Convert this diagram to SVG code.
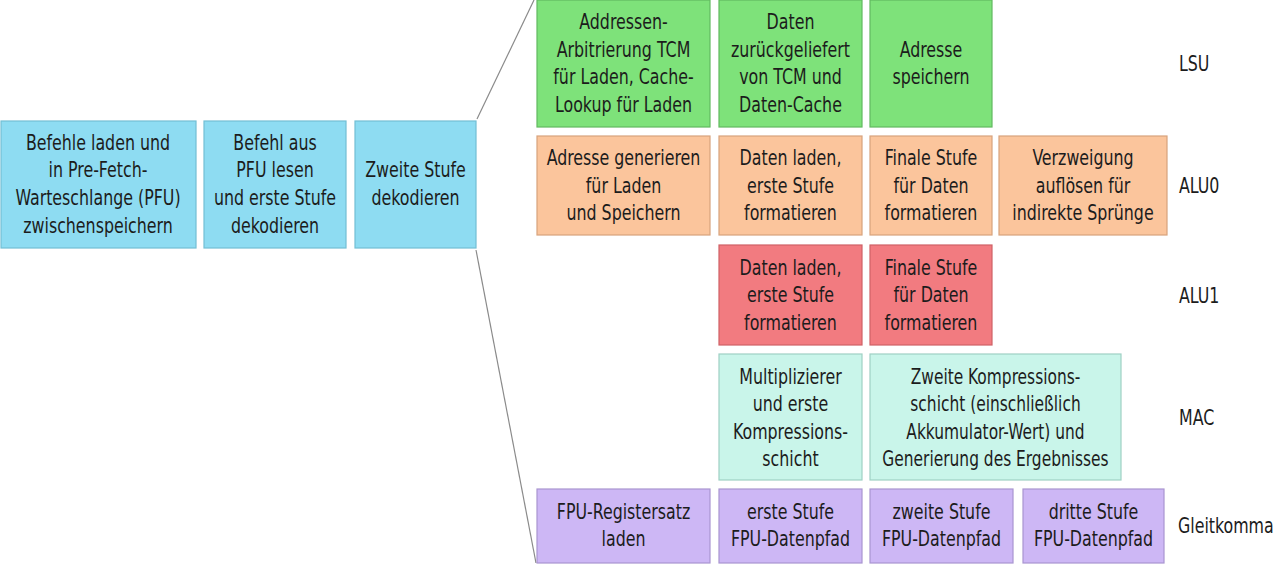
<svg xmlns="http://www.w3.org/2000/svg" width="1280" height="564" viewBox="0 0 1280 564">
<style>
text{font-family:"Liberation Sans Narrow","DejaVu Sans Condensed","Liberation Sans",sans-serif;font-size:22px;fill:#1c1c1c;text-anchor:middle;dominant-baseline:central}
.lbl text{text-anchor:start}
.blue{fill:#8edcf2;stroke:#72bfd4;stroke-width:1.2}
.green{fill:#7ee27a;stroke:#62b95f;stroke-width:1.2}
.orange{fill:#fbc59c;stroke:#d8a27c;stroke-width:1.2}
.red{fill:#f27b80;stroke:#cf6166;stroke-width:1.2}
.mint{fill:#c9f5ea;stroke:#9fd0c4;stroke-width:1.2}
.purple{fill:#cdb7f5;stroke:#a995d0;stroke-width:1.2}
.conn{stroke:#8a8a8a;stroke-width:1.2;fill:none}
</style>
<rect width="1280" height="564" fill="#ffffff"/>
<g id="connectors">
<line class="conn" x1="477" y1="119" x2="534" y2="0"/>
<line class="conn" x1="476" y1="250" x2="536" y2="563"/>
</g>
<g id="n1"><rect class="blue" x="1" y="121" width="195" height="127"/>
<g transform="translate(98 0) scale(0.8 1)"><text x="0" y="143">Befehle laden und</text><text x="0" y="170">in Pre-Fetch-</text><text x="0" y="198">Warteschlange (PFU)</text><text x="0" y="226">zwischenspeichern</text></g></g>
<g id="n2"><rect class="blue" x="204" y="121" width="142" height="127"/>
<g transform="translate(275 0) scale(0.8 1)"><text x="0" y="143">Befehl aus</text><text x="0" y="170">PFU lesen</text><text x="0" y="198">und erste Stufe</text><text x="0" y="226">dekodieren</text></g></g>
<g id="n3"><rect class="blue" x="355" y="121" width="121" height="127"/>
<g transform="translate(415.5 0) scale(0.8 1)"><text x="0" y="170">Zweite Stufe</text><text x="0" y="198">dekodieren</text></g></g>

<g id="lsu1"><rect class="green" x="537" y="0" width="173" height="127"/>
<g transform="translate(623.5 0) scale(0.8 1)"><text x="0" y="22">Addressen-</text><text x="0" y="50">Arbitrierung TCM</text><text x="0" y="77">für Laden, Cache-</text><text x="0" y="105">Lookup für Laden</text></g></g>
<g id="lsu2"><rect class="green" x="719" y="0" width="143" height="127"/>
<g transform="translate(790.5 0) scale(0.8 1)"><text x="0" y="22">Daten</text><text x="0" y="50">zurückgeliefert</text><text x="0" y="77">von TCM und</text><text x="0" y="105">Daten-Cache</text></g></g>
<g id="lsu3"><rect class="green" x="870" y="0" width="122" height="127"/>
<g transform="translate(931 0) scale(0.8 1)"><text x="0" y="50">Adresse</text><text x="0" y="77">speichern</text></g></g>
<g id="lbl-lsu" class="lbl"><g transform="translate(1179 0) scale(0.8 1)"><text x="0" y="64">LSU</text></g></g>

<g id="alu0-1"><rect class="orange" x="537" y="136" width="173" height="99"/>
<g transform="translate(623.5 0) scale(0.8 1)"><text x="0" y="158">Adresse generieren</text><text x="0" y="186">für Laden</text><text x="0" y="213">und Speichern</text></g></g>
<g id="alu0-2"><rect class="orange" x="719" y="136" width="143" height="99"/>
<g transform="translate(790.5 0) scale(0.8 1)"><text x="0" y="158">Daten laden,</text><text x="0" y="186">erste Stufe</text><text x="0" y="213">formatieren</text></g></g>
<g id="alu0-3"><rect class="orange" x="870" y="136" width="122" height="99"/>
<g transform="translate(931 0) scale(0.8 1)"><text x="0" y="158">Finale Stufe</text><text x="0" y="186">für Daten</text><text x="0" y="213">formatieren</text></g></g>
<g id="alu0-4"><rect class="orange" x="999" y="136" width="168" height="99"/>
<g transform="translate(1083 0) scale(0.8 1)"><text x="0" y="158">Verzweigung</text><text x="0" y="186">auflösen für</text><text x="0" y="213">indirekte Sprünge</text></g></g>
<g id="lbl-alu0" class="lbl"><g transform="translate(1179 0) scale(0.8 1)"><text x="0" y="186">ALU0</text></g></g>

<g id="alu1-1"><rect class="red" x="719" y="245" width="143" height="100"/>
<g transform="translate(790.5 0) scale(0.8 1)"><text x="0" y="268">Daten laden,</text><text x="0" y="295">erste Stufe</text><text x="0" y="323">formatieren</text></g></g>
<g id="alu1-2"><rect class="red" x="870" y="245" width="122" height="100"/>
<g transform="translate(931 0) scale(0.8 1)"><text x="0" y="268">Finale Stufe</text><text x="0" y="295">für Daten</text><text x="0" y="323">formatieren</text></g></g>
<g id="lbl-alu1" class="lbl"><g transform="translate(1179 0) scale(0.8 1)"><text x="0" y="296">ALU1</text></g></g>

<g id="mac-1"><rect class="mint" x="719" y="354" width="143" height="126"/>
<g transform="translate(790.5 0) scale(0.8 1)"><text x="0" y="377">Multiplizierer</text><text x="0" y="404">und erste</text><text x="0" y="432">Kompressions-</text><text x="0" y="459">schicht</text></g></g>
<g id="mac-2"><rect class="mint" x="870" y="354" width="251" height="126"/>
<g transform="translate(995.5 0) scale(0.78 1)"><text x="0" y="377">Zweite Kompressions-</text><text x="0" y="404">schicht (einschließlich</text><text x="0" y="432">Akkumulator-Wert) und</text><text x="0" y="459">Generierung des Ergebnisses</text></g></g>
<g id="lbl-mac" class="lbl"><g transform="translate(1179 0) scale(0.8 1)"><text x="0" y="418">MAC</text></g></g>

<g id="fpu-1"><rect class="purple" x="537" y="489" width="173" height="74"/>
<g transform="translate(623.5 0) scale(0.8 1)"><text x="0" y="512">FPU-Registersatz</text><text x="0" y="539">laden</text></g></g>
<g id="fpu-2"><rect class="purple" x="719" y="489" width="143" height="74"/>
<g transform="translate(790.5 0) scale(0.8 1)"><text x="0" y="512">erste Stufe</text><text x="0" y="539">FPU-Datenpfad</text></g></g>
<g id="fpu-3"><rect class="purple" x="870" y="489" width="143" height="74"/>
<g transform="translate(941.5 0) scale(0.8 1)"><text x="0" y="512">zweite Stufe</text><text x="0" y="539">FPU-Datenpfad</text></g></g>
<g id="fpu-4"><rect class="purple" x="1023" y="489" width="141" height="74"/>
<g transform="translate(1093.5 0) scale(0.8 1)"><text x="0" y="512">dritte Stufe</text><text x="0" y="539">FPU-Datenpfad</text></g></g>
<g id="lbl-fpu" class="lbl"><g transform="translate(1178 0) scale(0.8 1)"><text x="0" y="526">Gleitkomma</text></g></g>
</svg>
